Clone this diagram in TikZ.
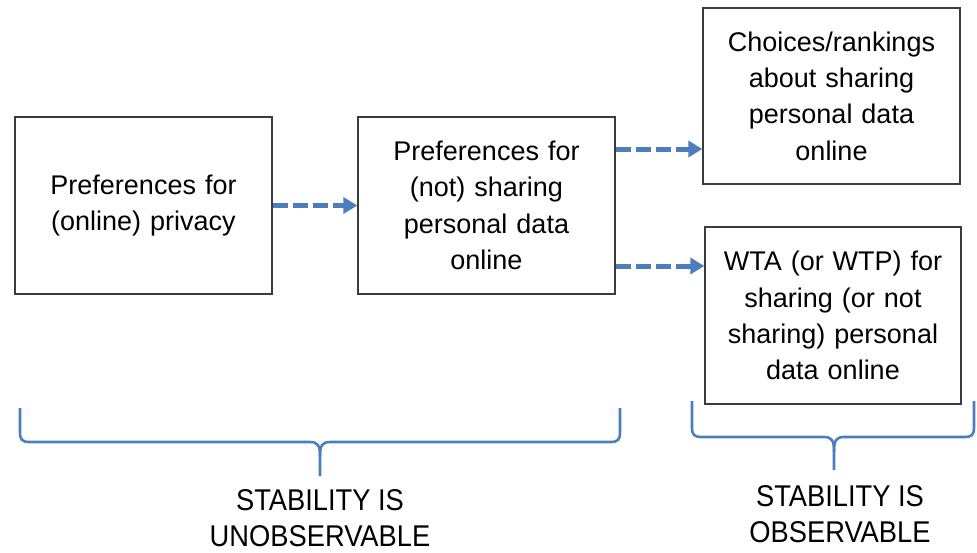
\documentclass[tikz,border=0pt]{standalone}
\usepackage{fontspec}
\setmainfont{Liberation Sans}
\newfontfamily\narrowfont[FakeStretch=0.91]{Liberation Sans}
\usetikzlibrary{arrows.meta}
\definecolor{arrblue}{RGB}{74,126,191}
\definecolor{boxgray}{RGB}{60,60,60}
\begin{document}
\begin{tikzpicture}[x=1pt,y=-1pt,
  box/.style={draw=boxgray,line width=1.3pt,minimum width=257pt,minimum height=177pt,
    align=center,font=\fontsize{27}{36.3}\selectfont,inner sep=0pt,text width=250pt},
  arr/.style={draw=arrblue,line width=5pt,dash pattern=on 15pt off 5pt,
    -{Triangle[length=14pt,width=16pt]}},
  brace/.style={draw=arrblue,line width=2.6pt},
  lab/.style={align=center,font=\narrowfont\fontsize{30}{36}\selectfont,inner sep=0pt}]
\useasboundingbox (0,0) rectangle (977,552);
\node[box] (b1) at (143.5,205.5) {Preferences for\\(online) privacy};
\node[box] (b2) at (486.5,205.5) {Preferences for\\(not) sharing\\personal data\\online};
\node[box,minimum height=176pt] (b3) at (831.5,96) {Choices/rankings\\about sharing\\personal data\\online};
\node[box,minimum width=256pt] (b4) at (833,315.5) {WTA (or WTP) for\\sharing (or not\\sharing) personal\\data online};
\draw[arr] (b1.east) -- (b2.west);
\draw[arr] (b2.east |- 0,149) -- (b3.west |- 0,149);
\draw[arr] (b2.east |- 0,266) -- (b4.west |- 0,266);
% braces
\draw[brace] (20,408) -- (20,432) .. controls (20,440) and (22,442) .. (30,442)
  -- (310,442) .. controls (318,442) and (320,446) .. (320,456) -- (320,476);
\draw[brace] (320,456) .. controls (320,446) and (322,442) .. (330,442)
  -- (610,442) .. controls (618,442) and (620,440) .. (620,432) -- (620,408);
\draw[brace] (692,401) -- (692,427) .. controls (692,435) and (694,437) .. (702,437)
  -- (824,437) .. controls (832,437) and (834,441) .. (834,451) -- (834,470);
\draw[brace] (834,451) .. controls (834,441) and (836,437) .. (844,437)
  -- (964,437) .. controls (972,437) and (974,435) .. (974,427) -- (974,401);
\node[lab] (l1) at (320,518) {STABILITY IS\\UNOBSERVABLE};
\node[lab] (l2) at (840,514) {STABILITY IS\\OBSERVABLE};
\end{tikzpicture}
\end{document}
